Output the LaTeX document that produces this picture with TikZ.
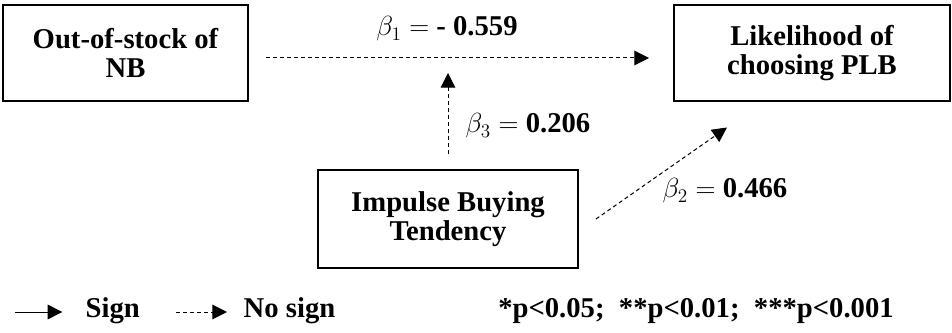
\documentclass[tikz,border=0pt]{standalone}
\usepackage{fontspec}
\setmainfont{Liberation Serif}
\usetikzlibrary{arrows.meta}

\begin{document}
\begin{tikzpicture}[x=0.75pt,y=0.75pt,
        every node/.style={font=\fontsize{21.5}{21.75}\selectfont\bfseries},
        VarBox/.style={draw, line width=1.5pt, align=center, inner sep=0pt},
        NoSign/.style={line width=0.75pt, dash pattern=on 3pt off 2.25pt,
            -{Triangle[length=11pt,width=11pt]}},
        Sign/.style={line width=0.75pt, -{Triangle[length=11pt,width=11pt]}}]
        \useasboundingbox (0,0) rectangle (952,332);
        % variables
        \node[VarBox, minimum width=183.75pt, minimum height=72pt] (OOS) at (125.5,279) {Out-of-stock of\\NB};
        \node[VarBox, minimum width=207pt, minimum height=72pt] (PLB) at (812,278.5) {Likelihood of\\choosing PLB};
        \node[VarBox, minimum width=195pt, minimum height=73.5pt] (IBT) at (448,113) {Impulse Buying\\Tendency};
        \coordinate (Mod) at (448,274);
        % paths
        \draw[NoSign, shorten <=12.75pt, shorten >=18pt] ([yshift=-3.75pt]OOS.east) -- ([yshift=-3.375pt]PLB.west);
        \draw[NoSign, shorten <=11.25pt, shorten >=11.25pt] (IBT.north) -- (Mod);
        \draw[NoSign] ([xshift=12.75pt]IBT.east) -- ([shift={(40.5pt,-18.75pt)}]PLB.south west);
        \node (b1) at (447,303) {$\beta_1 =$ - 0.559};
        \node (b3) at (528,206) {$\beta_3 =$ 0.206};
        \node (b2) at (725,141) {$\beta_2 =$ 0.466};
        % legend
        \node[anchor=west] (SignTxt) at (81,21) {Sign};
        \node[anchor=west] (NoSignTxt) at (239,21) {No sign};
        \coordinate (S0) at (15,20);
        \coordinate (N0) at (176,20);
        \draw[Sign, shorten >=14pt] (S0) -- (SignTxt.west |- S0);
        \draw[NoSign, shorten >=9pt] (N0) -- (NoSignTxt.west |- N0);
        \node (pval) at (696,21) {*p<0.05;\ \ **p<0.01;\ \ ***p<0.001};
\end{tikzpicture}
\end{document}
